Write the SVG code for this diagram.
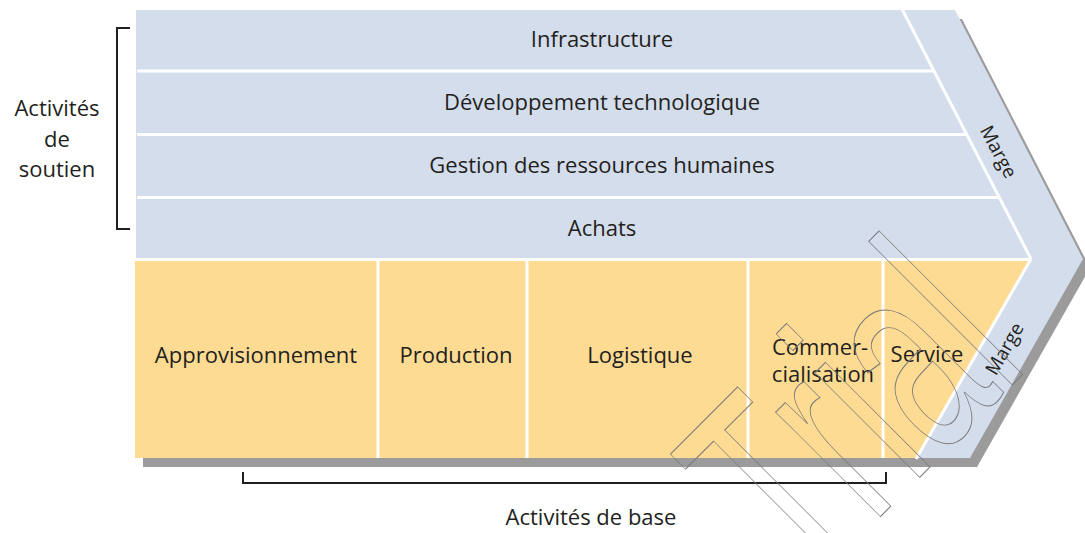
<svg xmlns="http://www.w3.org/2000/svg" width="1085" height="533" viewBox="0 0 1085 533">
  <style>
    .lbl { font-family: "Open Sans", "Liberation Sans", sans-serif; font-size: 22px; fill: #231f20; text-anchor: middle; }
    .marge { font-family: "Open Sans", "Liberation Sans", sans-serif; font-size: 19px; fill: #231f20; text-anchor: middle; }
    .sep { stroke: #ffffff; stroke-width: 3; fill: none; }
    .brace { stroke: #231f20; stroke-width: 2; fill: none; }
    .wm { font-family: "Liberation Sans", sans-serif; font-size: 280px; fill: none; stroke: #7a7a7a; stroke-width: 0.9; }
  </style>

  <rect width="1085" height="533" fill="#ffffff"/>

  <!-- chevron body with drop shadow -->
  <g id="chain">
    <polygon points="143,19 962,19 1090,268 977,467 143,467" fill="#9b9b9b"/>
    <polygon points="136,10 955,10 1083,259 970,458 136,458" fill="#d4ddec"/>
    <polygon points="135,260 1030,260 916,458 135,458" fill="#fedb92"/>
    <!-- row and column separators -->
    <line class="sep" x1="137" y1="71" x2="933" y2="71"/>
    <line class="sep" x1="137" y1="134.5" x2="966" y2="134.5"/>
    <line class="sep" x1="137" y1="197.5" x2="999" y2="197.5"/>
    <line class="sep" x1="135" y1="259.5" x2="1031" y2="259.5"/>
    <line class="sep" x1="902" y1="9" x2="1031" y2="259"/>
    <line class="sep" x1="1031" y1="259" x2="916" y2="459"/>
    <line class="sep" x1="378" y1="260" x2="378" y2="458"/>
    <line class="sep" x1="527" y1="260" x2="527" y2="458"/>
    <line class="sep" x1="748" y1="260" x2="748" y2="458"/>
    <line class="sep" x1="883" y1="260" x2="883" y2="458"/>
  </g>

  <!-- support activities -->
  <g id="infrastructure"><text class="lbl" x="602" y="47">Infrastructure</text></g>
  <g id="developpement"><text class="lbl" x="602" y="110">Développement technologique</text></g>
  <g id="grh"><text class="lbl" x="602" y="173">Gestion des ressources humaines</text></g>
  <g id="achats"><text class="lbl" x="602" y="236">Achats</text></g>

  <!-- primary activities -->
  <g id="approvisionnement"><text class="lbl" x="256" y="363">Approvisionnement</text></g>
  <g id="production"><text class="lbl" x="456" y="363">Production</text></g>
  <g id="logistique"><text class="lbl" x="640" y="363">Logistique</text></g>
  <g id="commercialisation">
    <text class="lbl" x="820" y="355">Commer-</text>
    <text class="lbl" x="823" y="382">cialisation</text>
  </g>
  <g id="service"><text class="lbl" x="927" y="362">Service</text></g>

  <!-- margin labels -->
  <g id="marge-haut"><text class="marge" transform="translate(998,152) rotate(62)" y="6">Marge</text></g>
  <g id="marge-bas"><text class="marge" transform="translate(1005,349) rotate(-60)" y="6">Marge</text></g>

  <!-- brackets -->
  <g id="soutien">
    <path class="brace" d="M130,28 H117 V229 H130"/>
    <text class="lbl" x="57" y="116">Activités</text>
    <text class="lbl" x="57" y="147">de</text>
    <text class="lbl" x="57" y="177">soutien</text>
  </g>
  <g id="base">
    <path class="brace" d="M243,472 V483 H886 V472"/>
    <text class="lbl" x="591" y="525">Activités de base</text>
  </g>

  <!-- outlined watermark -->
  <g id="watermark">
    <text class="wm" transform="translate(804,593) rotate(-45) scale(0.6,1)" vector-effect="non-scaling-stroke">Trial</text>
  </g>
</svg>
